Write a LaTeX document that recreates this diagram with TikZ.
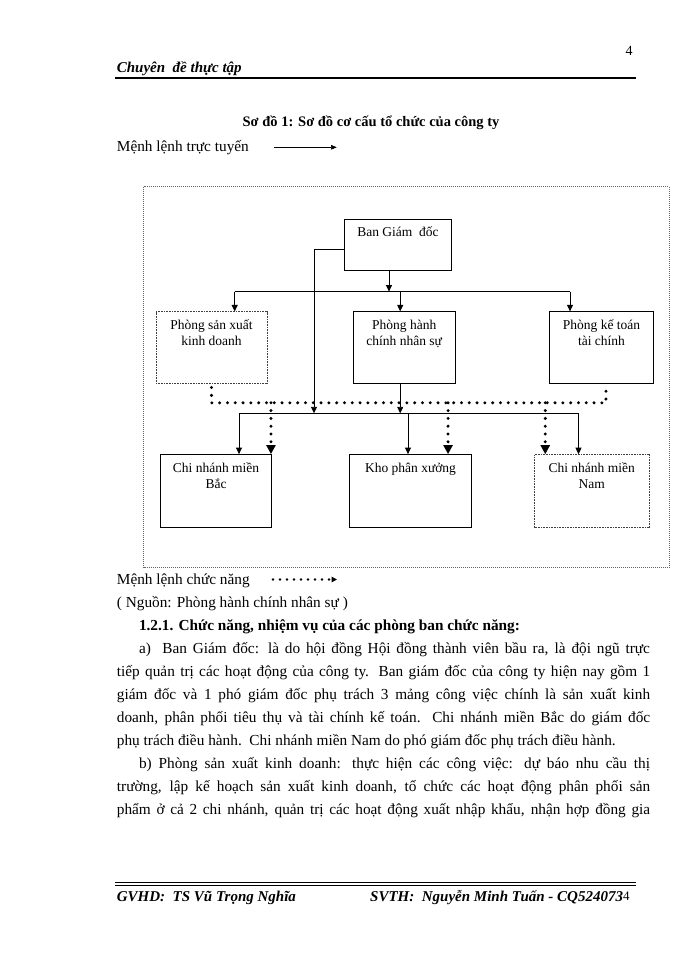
\documentclass[tikz,border=0pt]{standalone}
\usepackage{fontspec}
\setmainfont{Liberation Serif}
\usetikzlibrary{arrows.meta}

\begin{document}
\begin{tikzpicture}[
   x=1pt, y=-1pt,
   txt/.style={inner sep=0pt, anchor=base west, font=\fontsize{15.3}{18}\selectfont},
   unit/.style={draw, line width=0.8pt, inner sep=0pt, font=\fontsize{13.5}{16}\selectfont},
   dunit/.style={unit, draw=black!75, line width=0.6pt, dash pattern=on 0.8pt off 0.8pt},
   arrow/.style={-{Triangle[length=6.5pt,width=6pt]}, line width=0.9pt},
   line/.style={-, line width=0.9pt},
   fline/.style={line width=3.3pt, line cap=round, dash pattern=on 0pt off 7.8pt},
   farrow/.style={fline, -{Triangle[length=9pt,width=9pt]}}
]
\fill[white] (0,0) rectangle (700,960);
\useasboundingbox (0,0) rectangle (700,960);

% page head
\node[txt, anchor=center, font=\fontsize{14}{16}\selectfont] (pgno) at (629,50.7) {4};
\node[txt, font=\fontsize{15}{18}\selectfont\bfseries\itshape] (hdr) at (116.7,72.5) {Chuyên\ \ đề thực tập};
\draw[line width=1.6pt] (115,78.3) -- (636,78.3);

% title and legend
\node[txt, anchor=base, font=\fontsize{14.5}{17}\selectfont\bfseries] (title) at (371,126.5) {Sơ đồ 1: Sơ đồ cơ cấu tổ chức của công ty};
\node[txt] (lgd1) at (116.7,152) {Mệnh lệnh trực tuyến};
\coordinate (ar1s) at (274.3,147.3);
\coordinate (ar1e) at (336.7,147.3);
\draw[-{Triangle[length=5.5pt,width=4.5pt]}, line width=0.5pt] (ar1s) -- (ar1e);

% frame
\draw[black!60, line width=0.6pt, dash pattern=on 1pt off 1pt] (143.5,186.7) rectangle (669,567.5);

% units
\node[unit] (bgd) at (398,244.8) {\parbox[c][51.7pt][t]{107pt}{\centering\rule{0pt}{18pt}Ban Giám\ \ đốc}};
\node[dunit] (psx) at (211.5,347.5) {\parbox[c][71.5pt][t]{111pt}{\centering\rule{0pt}{18pt}Phòng\ sản xuất\\kinh\ doanh}};
\node[unit] (phc) at (404.2,347.5) {\parbox[c][71.5pt][t]{102pt}{\centering\rule{0pt}{18pt}Phòng\ hành\\chính nhân\ sự}};
\node[unit] (pkt) at (601.5,347.5) {\parbox[c][71.5pt][t]{103.5pt}{\centering\rule{0pt}{18pt}Phòng kế toán\\tài chính}};
\node[unit] (cnb) at (216,491) {\parbox[c][73pt][t]{110.5pt}{\centering\rule{0pt}{18pt}Chi nhánh\ miền\\Bắc}};
\node[unit] (kho) at (410.5,491) {\parbox[c][73pt][t]{121.5pt}{\centering\rule{0pt}{18pt}Kho phân xưởng}};
\node[dunit] (cnn) at (591.7,491) {\parbox[c][73pt][t]{114.3pt}{\centering\rule{0pt}{18pt}Chi nhánh\ miền\\Nam}};

% line commands
\coordinate (b1l) at (234.7,291.6);
\coordinate (b1r) at (570,291.6);
\coordinate (b2l) at (239,413.3);
\coordinate (b2r) at (578.5,413.3);
\coordinate (drop) at (314,413.3);
\draw[arrow] ([xshift=-9pt]bgd.south) -- ([xshift=-9pt]bgd.south |- b1l);
\draw[line] (b1l) -- (b1r);
\draw[arrow] (b1l) -- (b1l |- psx.north);
\draw[arrow] ([xshift=-4pt]phc.north |- b1l) -- ([xshift=-4pt]phc.north);
\draw[arrow] (b1r) -- (b1r |- pkt.north);
\draw[arrow] ([yshift=-5pt]bgd.west) -| (drop);
\draw[arrow] ([xshift=-4pt]phc.south) -- ([xshift=-4pt]phc.south |- b2l);
\draw[line] (b2l) -- (b2r);
\draw[arrow] (b2l) -- (b2l |- cnb.north);
\draw[arrow] ([xshift=-2.5pt]kho.north |- b2l) -- ([xshift=-2.5pt]kho.north);
\draw[arrow] (b2r) -- (b2r |- cnn.north);

% function commands
\coordinate (d1l) at (211.3,402.8);
\coordinate (d1r) at (605.9,402.8);
\draw[fline] ([yshift=-4pt]psx.south) |- (d1r) -- ([yshift=-4pt]d1r |- pkt.south);
\draw[farrow] ([xshift=-0.7pt]cnb.north east |- d1l) -- ([xshift=-0.7pt]cnb.north east);
\draw[farrow] ([xshift=-23.6pt]kho.north east |- d1l) -- ([xshift=-23.6pt]kho.north east);
\draw[farrow] ([xshift=11pt]cnn.north west |- d1l) -- ([xshift=11pt]cnn.north west);

% legend and text below
\node[txt] (lgd2) at (116.7,584) {Mệnh lệnh chức năng};
\coordinate (ar2s) at (273,579.5);
\coordinate (ar2e) at (337,579.5);
\draw[line width=2.6pt, line cap=round, dash pattern=on 0pt off 7pt, -{Triangle[length=5.5pt,width=5.5pt]}] (ar2s) -- (ar2e);
\node[txt] (src) at (116.7,607.5) {( Nguồn: Phòng hành chính nhân sự )};
\node[txt, font=\fontsize{15.3}{18}\selectfont\bfseries] (sec) at (138.8,630) {1.2.1. Chức năng, nhiệm vụ của các phòng ban chức năng:};
\node[txt] (p1) at (138.8,653) {\makebox[511pt][s]{a)\ \ Ban Giám đốc: là do hội đồng Hội đồng thành viên bầu ra, là đội ngũ trực}};
\node[txt] (p2) at (116.7,676) {\makebox[533.3pt][s]{tiếp quản trị các hoạt động của công ty. Ban giám đốc của công ty hiện nay gồm 1}};
\node[txt] (p3) at (116.7,699) {\makebox[533.3pt][s]{giám đốc và 1 phó giám đốc phụ trách 3 mảng công việc chính là sản xuất kinh}};
\node[txt] (p4) at (116.7,722) {\makebox[533.3pt][s]{doanh, phân phối tiêu thụ và tài chính kế toán. Chi nhánh miền Bắc do giám đốc}};
\node[txt] (p5) at (116.7,745) {phụ trách điều hành.\ \ Chi nhánh miền Nam do phó giám đốc phụ trách điều hành.};
\node[txt] (p6) at (138.8,768) {\makebox[511pt][s]{b) Phòng sản xuất kinh doanh: thực hiện các công việc: dự báo nhu cầu thị}};
\node[txt] (p7) at (116.7,791) {\makebox[533.3pt][s]{trường, lập kế hoạch sản xuất kinh doanh, tổ chức các hoạt động phân phối sản}};
\node[txt] (p8) at (116.7,814) {\makebox[533.3pt][s]{phẩm ở cả 2 chi nhánh, quản trị các hoạt động xuất nhập khẩu, nhận hợp đồng gia}};

% page foot
\draw[line width=0.9pt] (115,882.8) -- (636,882.8);
\draw[line width=0.9pt] (115,885.3) -- (636,885.3);
\node[txt, font=\fontsize{15}{18}\selectfont\bfseries\itshape] (ftl) at (116.7,901.5) {GVHD:\ \ TS Vũ Trọng Nghĩa};
\node[txt, font=\fontsize{15}{18}\selectfont\bfseries\itshape] (ftr) at (370,901.5) {SVTH:\ \ Nguyễn Minh Tuấn - CQ524073{\normalfont\fontsize{13}{13}\selectfont\raisebox{1.5pt}{4}}};

\end{tikzpicture}
\end{document}
